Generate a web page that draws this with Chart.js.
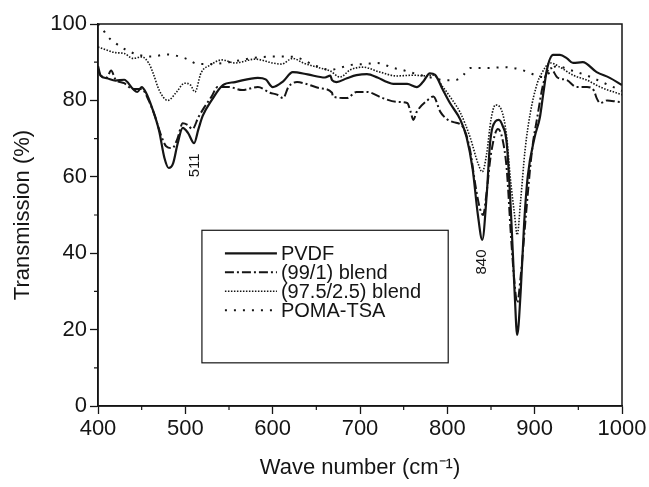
<!DOCTYPE html>
<html>
<head>
<meta charset="utf-8">
<script src="https://cdn.jsdelivr.net/npm/chart.js@4.4.1/dist/chart.umd.min.js"></script>
<style>
  html, body { margin: 0; padding: 0; background: #fff; }
  #wrap { width: 649px; height: 487px; }
</style>
</head>
<body>
<div id="wrap"><canvas id="irChart"></canvas></div>
<script>
// series data (wave number, transmission %)
const pvdfX = [400,403,410,420,430,440,445,450,455,462,470,476,481,486,491,497,503,510,515,520,530,543,557,583,592,600,612,623,640,660,666,668,673,685,696,708,720,731,738,754,765,772,780,786,795,803,815,822,829,835,840,845,849,855,859,863,868,873,877,880,884,888,892,900,906,910,914,921,929,937,944,955,971,986,1000];
const pvdfY = [89,86.5,85.8,85.2,85.4,83,82.2,83.5,82,78,72,65,62.3,63.5,68.5,72.8,71.5,68.8,72.5,76,80,84,84.8,85.9,85.5,83.5,85,87.4,86.8,86,86.5,85.3,84.8,85.8,86.6,86.9,86,84.8,84.3,84.3,83.5,84.8,87.1,86.7,82.7,79.3,74.9,70.4,62,50,43.5,55,69,74.5,74.9,73.5,68.8,50,30,18.6,30,48,60,70.4,75.6,82,88,91.9,91.9,91,89.8,90,87.4,85.9,84];

const blend991X = [400,403,410,415,420,430,440,450,458,465,472,478,485,491,497,503,508,515,522,530,537,550,565,583,597,605,612,618,628,640,654,668,669,685,696,708,726,742,754,758,761,765,777,784,792,800,807,818,826,832,837,841,845,850,858,863,868,873,877,880,884,890,897,903,910,918,926,937,948,960,968,971,975,983,998,1000];
const blend991Y = [88,86.5,86,87.8,85.5,84.5,83,83,80,76,71,68,67.5,70,74,73.5,72.5,75.6,78.3,81,83.5,83.5,82.7,83.5,82,81.5,80.6,83.5,84.8,84.2,83.2,82,81,80.6,82.2,82.2,80.6,79.6,79.3,77,74.9,77,80,81,77,75,74.3,73,67,58,52,50,56,66,72.5,70,62,44,32,27,34,50,67,75.6,84.5,88.5,86,85.3,83.5,83.5,82.5,80.6,79.3,80,79.6,80];

const blend975X = [400,410,420,430,440,450,458,463,470,480,490,499,506,511,518,529,542,557,580,600,610,623,635,654,666,677,689,703,723,742,761,777,784,795,803,815,826,835,840,845,850,855,862,868,872,877,880,884,889,895,903,908,918,929,944,960,975,1000];
const blend975Y = [94,93.2,92.5,92.3,91,91.4,89.8,87.2,82.7,80,82.2,84.5,84,82.2,87.2,89.3,90.6,89.8,90.8,89.8,89.5,91,89.8,88.5,87.7,86.1,88,88.7,87.4,86.4,86.6,86.4,86.6,83.5,81,76.7,70.4,63.6,61.3,66,75,78.8,77.5,70.4,60,50,44.8,54,67,76.7,84.5,87.1,89.8,88.7,86.6,85.3,83.5,81.5];

const pomaX = [400,404,410,420,430,445,460,480,500,515,530,550,575,600,623,650,665,690,705,720,738,748,757,770,785,797,809,818,826,845,866,875,885,895,910,918,925,940,960,980,1000];
const pomaY = [100,99.2,97,95,93.5,92,91.5,92,91,89.5,89.5,90,91,91.5,91.4,89,88,89.3,89.5,89.8,88.5,88,87.4,86.6,85.8,85.3,85.3,86.6,88.5,88.5,88.7,88.5,88,87.1,86.1,87.5,89,88,86.5,84.5,82.5];

const seriesLabels = ['PVDF', '(99/1) blend', '(97.5/2.5) blend', 'POMA-TSA'];
const xTicks = [400, 500, 600, 700, 800, 900, 1000];
const xMinor = [450, 550, 650, 750, 850, 950];
const yMinor = [10, 30, 50, 70, 90];
const peakNotes = [{ x: 511, y: 63, text: '511' }, { x: 840, y: 37.7, text: '840' }];

const ink = '#151515';
const fontFam = '"Liberation Sans", Arial, sans-serif';
const pts = (xs, ys) => xs.map((x, i) => ({ x: x, y: ys[i] }));

// legend box drawn inside the plot, positioned in data units
const legendBox = { x0: 519, x1: 801, y0: 46, y1: 11.3 };

const framePlugin = {
    id: 'frame',
    afterDraw(chart) {
        const { ctx, chartArea: a, scales } = chart;
        const sx = scales.x, sy = scales.y;
        ctx.save();
        ctx.strokeStyle = ink;
        ctx.lineWidth = 1.5;
        ctx.strokeRect(a.left, a.top, a.right - a.left, a.bottom - a.top);

        // minor ticks
        ctx.lineWidth = 1.2;
        ctx.beginPath();
        xMinor.forEach(v => {
            const px = sx.getPixelForValue(v);
            ctx.moveTo(px, a.bottom); ctx.lineTo(px, a.bottom + 4);
        });
        yMinor.forEach(v => {
            const py = sy.getPixelForValue(v);
            ctx.moveTo(a.left, py); ctx.lineTo(a.left - 4, py);
        });
        ctx.stroke();

        // peak labels
        ctx.fillStyle = ink;
        ctx.font = '15px ' + fontFam;
        ctx.textAlign = 'center';
        ctx.textBaseline = 'middle';
        peakNotes.forEach(n => {
            ctx.save();
            ctx.translate(sx.getPixelForValue(n.x), sy.getPixelForValue(n.y));
            ctx.rotate(-Math.PI / 2);
            ctx.fillText(n.text, 0, 0);
            ctx.restore();
        });

        // legend
        const bx0 = sx.getPixelForValue(legendBox.x0), bx1 = sx.getPixelForValue(legendBox.x1);
        const by0 = sy.getPixelForValue(legendBox.y0), by1 = sy.getPixelForValue(legendBox.y1);
        ctx.fillStyle = '#fff';
        ctx.fillRect(bx0, by0, bx1 - bx0, by1 - by0);
        ctx.lineWidth = 1.2;
        ctx.strokeStyle = ink;
        ctx.strokeRect(bx0, by0, bx1 - bx0, by1 - by0);
        ctx.font = '20px ' + fontFam;
        ctx.textAlign = 'left';
        chart.data.datasets.forEach((ds, i) => {
            const y = by0 + 23 + i * 19;
            ctx.save();
            ctx.strokeStyle = ds.borderColor;
            ctx.lineWidth = ds.borderWidth;
            ctx.setLineDash(ds.borderDash || []);
            ctx.beginPath();
            ctx.moveTo(bx0 + 23, y);
            ctx.lineTo(bx0 + 75, y);
            ctx.stroke();
            ctx.restore();
            ctx.fillStyle = ink;
            ctx.fillText(ds.label, bx0 + 79, y + 1);
        });
        ctx.restore();
    }
};

const common = {
    borderColor: ink,
    pointRadius: 0,
    fill: false,
    cubicInterpolationMode: 'monotone'
};

new Chart(document.getElementById('irChart'), {
    type: 'line',
    data: {
        datasets: [
            { ...common, label: seriesLabels[0], data: pts(pvdfX, pvdfY), borderWidth: 2.2 },
            { ...common, label: seriesLabels[1], data: pts(blend991X, blend991Y), borderWidth: 2, borderDash: [9, 3, 2, 3] },
            { ...common, label: seriesLabels[2], data: pts(blend975X, blend975Y), borderWidth: 1.6, borderDash: [1.5, 1.5] },
            { ...common, label: seriesLabels[3], data: pts(pomaX, pomaY), borderWidth: 2, borderDash: [2, 7] }
        ]
    },
    options: {
        responsive: true,
        maintainAspectRatio: false,
        animation: false,
        layout: { padding: { top: 24, right: 27, left: 0, bottom: 0 } },
        scales: {
            x: {
                type: 'linear',
                min: 400,
                max: 1000,
                afterBuildTicks: s => { s.ticks = xTicks.map(v => ({ value: v })); },
                afterFit: s => { s.height = 81; },
                ticks: {
                    color: ink, padding: 2,
                    font: { size: 22, family: fontFam },
                    callback: v => String(v)
                },
                grid: { display: true, drawOnChartArea: false, tickLength: 8, color: ink, tickWidth: 1.3 },
                border: { color: ink, width: 1.5 },
                title: {
                    display: true,
                    text: 'Wave number (cm\u207B\u00B9)',
                    color: ink,
                    padding: { top: 0, bottom: 6 },
                    font: { size: 22, family: fontFam }
                }
            },
            y: {
                min: 0,
                max: 100,
                ticks: { stepSize: 20, color: ink, padding: 3, font: { size: 22, family: fontFam } },
                afterFit: s => { s.width = 98; },
                grid: { display: true, drawOnChartArea: false, tickLength: 8, color: ink, tickWidth: 1.3 },
                border: { color: ink, width: 1.5 },
                title: {
                    display: true,
                    text: 'Transmission (%)',
                    color: ink,
                    padding: { top: 10, bottom: 0 },
                    font: { size: 22, family: fontFam }
                }
            }
        },
        plugins: {
            legend: { display: false },
            tooltip: { enabled: false }
        }
    },
    plugins: [framePlugin]
});
</script>
</body>
</html>
